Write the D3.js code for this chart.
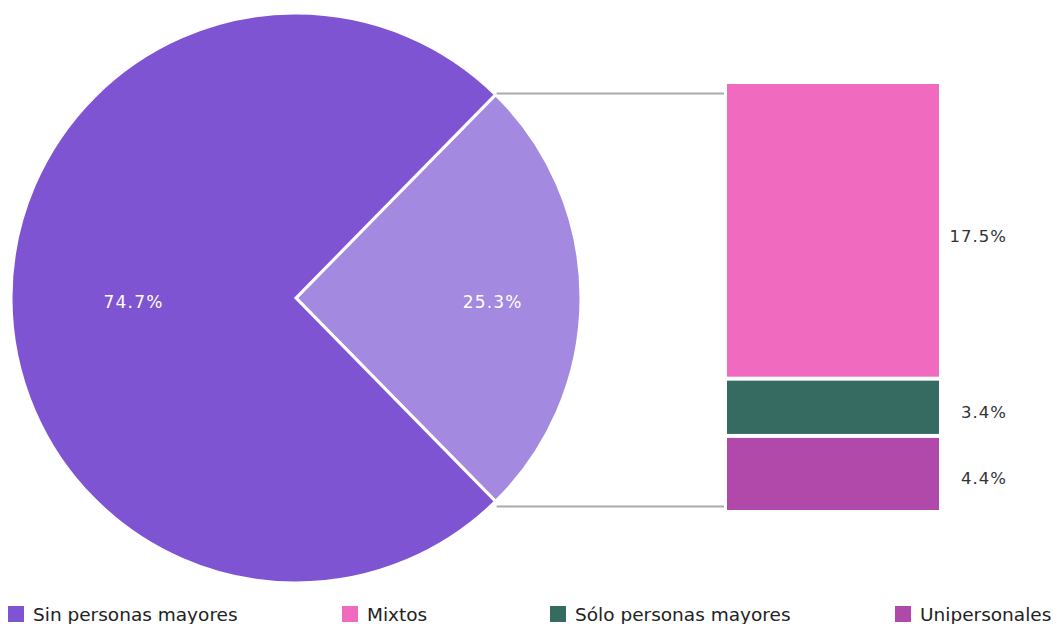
<!DOCTYPE html>
<html>
<head>
<meta charset="utf-8">
<script src="https://cdn.jsdelivr.net/npm/d3@7"></script>
<style>
  html, body { margin: 0; padding: 0; background: #fff; overflow: hidden; }
  svg { display: block; font-family: "DejaVu Sans", sans-serif; }
</style>
</head>
<body>
<svg id="chart" width="1058" height="624"></svg>
<script>
// ---- data ----
const pieLabels = ["Con personas mayores", "Sin personas mayores"];
const pieValues = [25.3, 74.7];
const pieColors = ["#a389e0", "#7f54d3"];

const barLabels = ["Mixtos", "Sólo personas mayores", "Unipersonales"];
const barValues = [17.5, 3.4, 4.4];
const barColors = ["#f06bbf", "#366b62", "#b049aa"];

const legendLabels = ["Sin personas mayores", "Mixtos", "Sólo personas mayores", "Unipersonales"];
const legendColors = ["#7f54d3", "#f06bbf", "#366b62", "#b049aa"];
const legendX = [8, 342, 550, 895];

// ---- layout ----
const svg = d3.select("#chart");
const cx = 296, cy = 298, r = 285;

const fracLight = pieValues[0] / d3.sum(pieValues);
const start = Math.PI / 2 - fracLight * Math.PI;
const pie = d3.pie().sort(null).value(d => d)
  .startAngle(start).endAngle(start + 2 * Math.PI);
const arcs = pie(pieValues);
const arc = d3.arc().innerRadius(0).outerRadius(r);

const g = svg.append("g").attr("transform", `translate(${cx},${cy})`);
g.selectAll("path").data(arcs).enter().append("path")
  .attr("d", arc)
  .attr("fill", (d, i) => pieColors[i])
  .attr("stroke", "#fff")
  .attr("stroke-width", 3)
  .attr("stroke-linejoin", "miter");

const labelArc = d3.arc().innerRadius(r * 0.69).outerRadius(r * 0.69);
const labelArcBig = d3.arc().innerRadius(r * 0.57).outerRadius(r * 0.57);
g.selectAll("text.pl").data(arcs).enter().append("text")
  .attr("class", "pl")
  .attr("transform", (d, i) => {
    const c = (i === 0 ? labelArc : labelArcBig).centroid(d);
    return `translate(${c[0]},${c[1] + 4})`;
  })
  .attr("text-anchor", "middle")
  .attr("dy", "0.36em")
  .attr("fill", "#fff")
  .attr("font-size", 17)
  .attr("letter-spacing", 1.2)
  .text(d => d.value.toFixed(1) + "%");

// ---- bar of pie ----
const barTop = 84, barBottom = 510, barX0 = 727, barX1 = 939, gap = 4;
const y = d3.scaleLinear().domain([0, d3.sum(barValues)]).range([barTop, barBottom]);
let acc = 0;
const stacks = barValues.map((v, i) => { const s = { v, i, y0: acc, y1: acc + v }; acc += v; return s; });
const n = stacks.length;

svg.selectAll("rect.bar").data(stacks).enter().append("rect")
  .attr("class", "bar")
  .attr("x", barX0)
  .attr("width", barX1 - barX0)
  .attr("y", d => y(d.y0) + (d.i > 0 ? gap / 2 : 0))
  .attr("height", d => y(d.y1) - y(d.y0) - (d.i > 0 ? gap / 2 : 0) - (d.i < n - 1 ? gap / 2 : 0))
  .attr("fill", d => barColors[d.i]);

svg.selectAll("text.bl").data(stacks).enter().append("text")
  .attr("class", "bl")
  .attr("x", 1007)
  .attr("y", d => (y(d.y0) + y(d.y1)) / 2 + 5)
  .attr("text-anchor", "end")
  .attr("dy", "0.36em")
  .attr("fill", "#333")
  .attr("font-size", 16.5)
  .attr("letter-spacing", 1)
  .text(d => d.v.toFixed(1) + "%");

// ---- connector lines ----
const a0 = arcs[0].startAngle, a1 = arcs[0].endAngle;
const p0 = [cx + r * Math.sin(a0), cy - r * Math.cos(a0)];
const p1 = [cx + r * Math.sin(a1), cy - r * Math.cos(a1)];
const lines = [[p0[0] + 1, p0[1] - 1, barX0 - 3, p0[1] - 1], [p1[0] + 1, p1[1] + 5, barX0 - 3, p1[1] + 5]];
svg.selectAll("line.conn").data(lines).enter().append("line")
  .attr("x1", d => d[0]).attr("y1", d => d[1])
  .attr("x2", d => d[2]).attr("y2", d => d[3])
  .attr("stroke", "#aaaaaa").attr("stroke-width", 2);

// ---- legend ----
const lg = svg.selectAll("g.leg").data(legendLabels).enter().append("g")
  .attr("class", "leg")
  .attr("transform", (d, i) => `translate(${legendX[i]},606)`);
lg.append("rect").attr("width", 16).attr("height", 16)
  .attr("fill", (d, i) => legendColors[i]);
lg.append("text").attr("x", 25).attr("y", 14.5)
  .attr("font-size", 18.5)
  .attr("fill", "#222")
  .text(d => d);
</script>
</body>
</html>
